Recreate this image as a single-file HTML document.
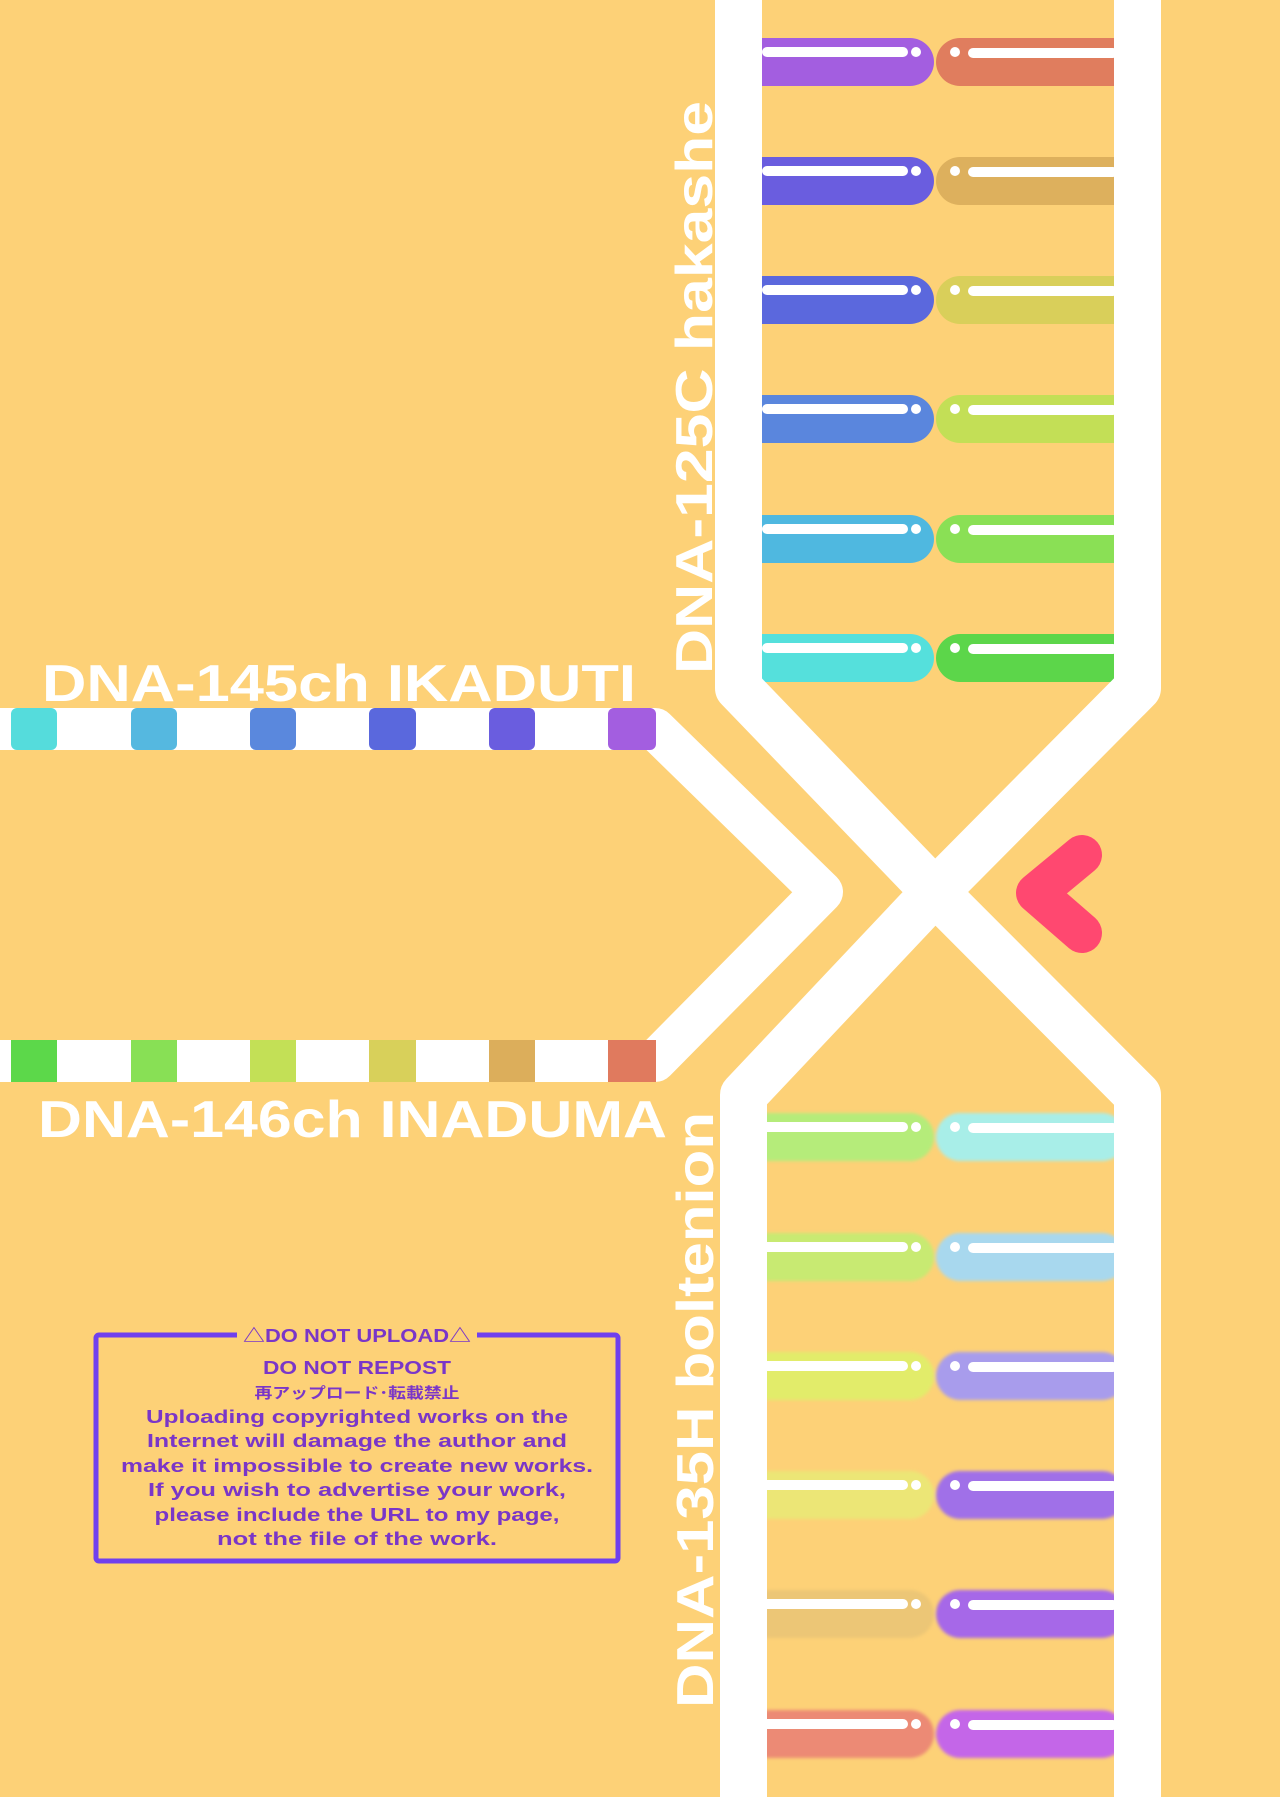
<!DOCTYPE html>
<html><head><meta charset="utf-8"><style>
html,body{margin:0;padding:0;background:#fdd177;}
svg{display:block}
</style></head><body>
<svg width="1280" height="1797" viewBox="0 0 1280 1797" xmlns="http://www.w3.org/2000/svg">
<rect width="1280" height="1797" fill="#fdd177"/>
<defs>
<filter id="blur" x="-5%" y="-30%" width="110%" height="160%"><feGaussianBlur stdDeviation="1.5"/></filter>
</defs>
<g>
<g transform="translate(0,38)">
<rect x="720" y="0" width="214" height="48" rx="24" fill="#a35ee0"/><rect x="936" y="0" width="204" height="48" rx="24" fill="#e07d5e"/>
</g>
<g transform="translate(0,157)">
<rect x="720" y="0" width="214" height="48" rx="24" fill="#6a5ddf"/><rect x="936" y="0" width="204" height="48" rx="24" fill="#ddb05d"/>
</g>
<g transform="translate(0,276)">
<rect x="720" y="0" width="214" height="48" rx="24" fill="#5b68dd"/><rect x="936" y="0" width="204" height="48" rx="24" fill="#d9cf5a"/>
</g>
<g transform="translate(0,395)">
<rect x="720" y="0" width="214" height="48" rx="24" fill="#5a86dd"/><rect x="936" y="0" width="204" height="48" rx="24" fill="#c3df56"/>
</g>
<g transform="translate(0,515)">
<rect x="720" y="0" width="214" height="48" rx="24" fill="#4fb8e0"/><rect x="936" y="0" width="204" height="48" rx="24" fill="#8ae055"/>
</g>
<g transform="translate(0,634)">
<rect x="720" y="0" width="214" height="48" rx="24" fill="#55e0dc"/><rect x="936" y="0" width="204" height="48" rx="24" fill="#5cd64a"/>
</g>
</g>
<g filter="url(#blur)">
<g transform="translate(0,1113)"><rect x="745" y="0" width="189" height="48" rx="24" fill="#b5ec7a"/><rect x="936" y="0" width="190" height="48" rx="24" fill="#a8eee8"/></g>
<g transform="translate(0,1233)"><rect x="745" y="0" width="189" height="48" rx="24" fill="#c8ea72"/><rect x="936" y="0" width="190" height="48" rx="24" fill="#a8d8ee"/></g>
<g transform="translate(0,1352)"><rect x="745" y="0" width="189" height="48" rx="24" fill="#e2ec6a"/><rect x="936" y="0" width="190" height="48" rx="24" fill="#a89cec"/></g>
<g transform="translate(0,1471)"><rect x="745" y="0" width="189" height="48" rx="24" fill="#ece676"/><rect x="936" y="0" width="190" height="48" rx="24" fill="#a070e8"/></g>
<g transform="translate(0,1590)"><rect x="745" y="0" width="189" height="48" rx="24" fill="#ecc676"/><rect x="936" y="0" width="190" height="48" rx="24" fill="#a668e8"/></g>
<g transform="translate(0,1710)"><rect x="745" y="0" width="189" height="48" rx="24" fill="#ec8a74"/><rect x="936" y="0" width="190" height="48" rx="24" fill="#c466e8"/></g>
</g>
<g fill="#fff">
<g id="hl">
<rect x="762" y="47" width="146" height="10" rx="5"/><circle cx="916" cy="52" r="5"/>
<circle cx="955" cy="52" r="5"/><rect x="968" y="48" width="150" height="10" rx="5"/>
</g>
<use href="#hl" y="119"/><use href="#hl" y="238"/><use href="#hl" y="357"/><use href="#hl" y="477"/><use href="#hl" y="596"/>
<use href="#hl" y="1075"/><use href="#hl" y="1195"/><use href="#hl" y="1314"/><use href="#hl" y="1433"/><use href="#hl" y="1552"/><use href="#hl" y="1672"/>
</g>
<g fill="none" stroke="#fff" stroke-width="47" stroke-linejoin="round">
<polyline points="738.5,-10 738.5,688 935,892 1137.5,1095 1137.5,1810"/>
<polyline points="1137.5,-10 1137.5,688 935,892 743.5,1095 743.5,1810"/>
</g>
<polyline points="-10,729 655,729 822,892 655,1061 -10,1061" fill="none" stroke="#fff" stroke-width="42" stroke-linejoin="round"/>
<g>
<rect x="11" y="708" width="46" height="42" rx="6" fill="#55dcdc"/>
<rect x="131" y="708" width="46" height="42" rx="6" fill="#55b8e0"/>
<rect x="250" y="708" width="46" height="42" rx="6" fill="#5a88dd"/>
<rect x="369" y="708" width="47" height="42" rx="6" fill="#5a68dd"/>
<rect x="489" y="708" width="46" height="42" rx="6" fill="#6a5ddf"/>
<rect x="608" y="708" width="48" height="42" rx="6" fill="#a35ee0"/>
<rect x="11" y="1040" width="46" height="42" fill="#5cd84a"/>
<rect x="131" y="1040" width="46" height="42" fill="#88e055"/>
<rect x="250" y="1040" width="46" height="42" fill="#c3e056"/>
<rect x="369" y="1040" width="47" height="42" fill="#d8d05a"/>
<rect x="489" y="1040" width="46" height="42" fill="#dcae5b"/>
<rect x="608" y="1040" width="48" height="42" fill="#e07a5e"/>
</g>
<polyline points="1082,855 1036,893 1082,933" fill="none" stroke="#ff4870" stroke-width="40" stroke-linecap="round" stroke-linejoin="round"/>
<g font-family="Liberation Sans, sans-serif" font-weight="bold" fill="#fff" font-size="52">
<text x="42" y="701" textLength="594" lengthAdjust="spacingAndGlyphs">DNA-145ch IKADUTI</text>
<text x="38" y="1137" textLength="629" lengthAdjust="spacingAndGlyphs">DNA-146ch INADUMA</text>
<text transform="translate(712,674) rotate(-90)" textLength="573" lengthAdjust="spacingAndGlyphs">DNA-125C hakashe</text>
<text transform="translate(713,1708) rotate(-90)" textLength="596" lengthAdjust="spacingAndGlyphs">DNA-135H boltenion</text>
</g>
<rect x="96" y="1335" width="522" height="226" fill="none" stroke="#7040ee" stroke-width="5" rx="3"/>
<rect x="237" y="1322" width="240" height="26" fill="#fdd177"/>
<g font-family="Liberation Sans, 'Noto Sans CJK JP', sans-serif" font-weight="bold" fill="#7a36c8" text-anchor="middle">
<text x="357" y="1342" font-size="18" textLength="228" lengthAdjust="spacingAndGlyphs">△DO NOT UPLOAD△</text>
<text x="357" y="1374" font-size="18" textLength="188" lengthAdjust="spacingAndGlyphs">DO NOT REPOST</text>
<text x="357" y="1398" font-size="15" textLength="205" lengthAdjust="spacingAndGlyphs">再アップロード･転載禁止</text>
<text x="357" y="1423" font-size="18" textLength="422" lengthAdjust="spacingAndGlyphs">Uploading copyrighted works on the</text>
<text x="357" y="1447" font-size="18" textLength="420" lengthAdjust="spacingAndGlyphs">Internet will damage the author and</text>
<text x="357" y="1472" font-size="18" textLength="472" lengthAdjust="spacingAndGlyphs">make it impossible to create new works.</text>
<text x="357" y="1496" font-size="18" textLength="418" lengthAdjust="spacingAndGlyphs">If you wish to advertise your work,</text>
<text x="357" y="1521" font-size="18" textLength="405" lengthAdjust="spacingAndGlyphs">please include the URL to my page,</text>
<text x="357" y="1545" font-size="18" textLength="280" lengthAdjust="spacingAndGlyphs">not the file of the work.</text>
</g>
</svg>
</body></html>
